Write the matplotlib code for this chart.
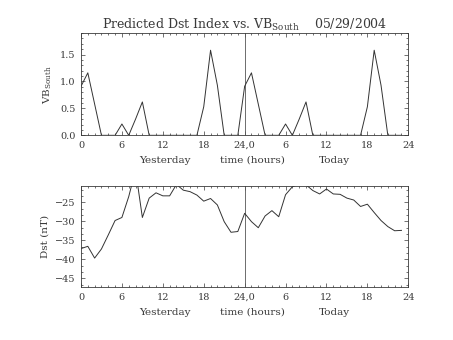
import numpy as np
import matplotlib
matplotlib.use("Agg")
import matplotlib.pyplot as plt
from matplotlib.ticker import MultipleLocator

plt.rcParams['font.family'] = ['DejaVu Serif']
plt.rcParams['mathtext.fontset'] = 'dejavuserif'

# hours since start of yesterday (0..47)
hours = np.arange(48)

vb_south = [0.91, 1.16, 0.58, 0.0, 0.0, 0.0, 0.21, 0.0, 0.3, 0.62,
            0.0, 0.0, 0.0, 0.0, 0.0, 0.0, 0.0, 0.0, 0.53, 1.58,
            0.93, 0.0, 0.0, 0.0,
            0.91, 1.16, 0.58, 0.0, 0.0, 0.0, 0.21, 0.0, 0.3, 0.62,
            0.0, 0.0, 0.0, 0.0, 0.0, 0.0, 0.0, 0.0, 0.53, 1.58,
            0.93, 0.0, 0.0, 0.0]

dst = [-37.2, -36.6, -39.7, -37.3, -33.6, -29.8, -29.0, -23.5, -16.5, -29.0,
       -23.9, -22.5, -23.3, -23.3, -20.3, -21.8, -22.2, -23.1, -24.7, -24.0,
       -25.7, -30.1, -32.9, -32.7,
       -27.9, -30.1, -31.7, -28.6, -27.2, -28.8, -23.0, -20.9, -20.2, -20.4,
       -21.9, -22.8, -21.5, -22.8, -22.9, -23.9, -24.4, -26.1, -25.5, -27.7,
       -29.8, -31.4, -32.5, -32.4]

xticks = [0, 6, 12, 18, 24, 30, 36, 42, 48]
xticklabels = ['0', '6', '12', '18', '24,0', '6', '12', '18', '24']

title = r"Predicted Dst Index vs. VB$_{\rm South}$    05/29/2004"

ink = '#3a3a3a'
fs = 7

fig = plt.figure(figsize=(4.53, 3.40), dpi=100)
ax1 = fig.add_axes([0.1788, 0.602, 0.7225, 0.301])
ax2 = fig.add_axes([0.1788, 0.155, 0.7225, 0.298])

for ax in (ax1, ax2):
    ax.set_xlim(0, 48)
    ax.set_xticks(xticks)
    ax.set_xticklabels(xticklabels)
    ax.xaxis.set_minor_locator(MultipleLocator(1))
    ax.tick_params(which='both', direction='in', top=True, right=True,
                   colors=ink, labelsize=fs, width=0.5)
    ax.tick_params(which='major', length=3, pad=4)
    ax.tick_params(which='minor', length=1.5)
    for s in ax.spines.values():
        s.set_linewidth(0.6)
        s.set_color(ink)
    ax.axvline(24, color='#555555', lw=0.6)
    ax.text(12.3, -0.2, 'Yesterday', transform=ax.get_xaxis_transform(),
            ha='center', va='top', fontsize=fs + 0.5, color=ink)
    ax.text(25.2, -0.2, 'time (hours)', transform=ax.get_xaxis_transform(),
            ha='center', va='top', fontsize=fs + 0.5, color=ink)
    ax.text(37.1, -0.2, 'Today', transform=ax.get_xaxis_transform(),
            ha='center', va='top', fontsize=fs + 0.5, color=ink)

ax1.plot(hours, vb_south, color='#333333', lw=0.7)
ax1.set_ylim(0, 1.9)
ax1.set_yticks([0.0, 0.5, 1.0, 1.5])
ax1.set_yticklabels(['0.0', '0.5', '1.0', '1.5'])
ax1.yaxis.set_minor_locator(MultipleLocator(0.1))
ax1.set_ylabel(r"VB$_{\rm South}$", fontsize=fs + 0.5, color=ink, labelpad=4)
ax1.set_title(title, fontsize=9, color=ink, pad=3)

ax2.plot(hours, dst, color='#333333', lw=0.7)
ax2.set_ylim(-47.4, -20.7)
ax2.set_yticks([-45, -40, -35, -30, -25])
ax2.yaxis.set_minor_locator(MultipleLocator(5 / 3))
ax2.set_ylabel("Dst (nT)", fontsize=fs + 0.5, color=ink, labelpad=4)

fig.savefig("out.png", dpi=100)
